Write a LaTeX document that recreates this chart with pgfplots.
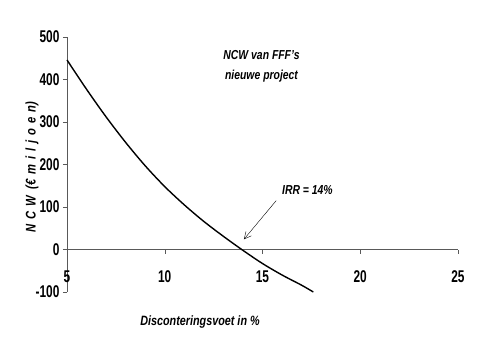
\documentclass[border=0pt]{standalone}
\usepackage{fontspec}
\setmainfont{Liberation Sans}
\usepackage{pgfplots}
\pgfplotsset{compat=1.18}
\usetikzlibrary{arrows.meta}
\begin{document}
\begin{tikzpicture}
\begin{axis}[
  scale only axis,
  width=391pt, height=255pt,
  xmin=5, xmax=25, ymin=-100, ymax=500,
  axis x line=middle, axis y line=left,
  hide obscured x ticks=false,
  axis line style={gray!70!black, -},
  xtick={5,10,15,20,25}, ytick={-100,0,100,200,300,400,500},
  tick style={gray!70!black, thin},
  xtick align=outside, ytick align=outside,
  major tick length=4pt,
  /pgf/number format/assume math mode=true,
  xticklabel={\scalebox{0.7}[1]{\bfseries\pgfmathprintnumber{\tick}}},
  yticklabel={\scalebox{0.7}[1]{\bfseries\pgfmathprintnumber{\tick}}},
  tick label style={font=\fontsize{17}{17}\selectfont},
  xticklabel style={yshift=-14pt},
  clip=false,
]
\addplot[black, line width=1.4pt, smooth] coordinates {
 (5,446) (6,377) (7,312) (8,252) (9,197) (10,148) (11,105) (12,66)
 (13,31) (14,-2) (15,-33) (16,-60) (17,-84) (17.6,-100)
};
\draw[-{Straight Barb[open,length=7pt,width=7pt]}, thin] (axis cs:15.7,115) -- (axis cs:14.05,24);
\node[font=\bfseries\itshape\fontsize{13}{13}\selectfont] at (axis cs:17.3,140) {\scalebox{0.8}[1]{IRR = 14\%}};
\node[font=\bfseries\itshape\fontsize{13}{13}\selectfont, align=center] at (axis cs:14.95,457) {\scalebox{0.8}[1]{NCW van FFF's}};
\node[font=\bfseries\itshape\fontsize{13}{13}\selectfont, align=center] at (axis cs:14.95,408) {\scalebox{0.8}[1]{nieuwe project}};
\end{axis}
\node[font=\bfseries\itshape\fontsize{14}{14}\selectfont, rotate=90] at (-35pt, 125pt) {\scalebox{0.8}[1]{N\, C\, W \ (€\, m\, i\, l\, j\, o\, e\, n)}};
\node[font=\bfseries\itshape\fontsize{13.5}{13.5}\selectfont] at (133pt, -30pt) {\scalebox{0.8}[1]{Disconteringsvoet in \%}};
\pgfresetboundingbox
\path (-67pt,-68pt) rectangle (413pt,292pt);
\end{tikzpicture}
\end{document}
